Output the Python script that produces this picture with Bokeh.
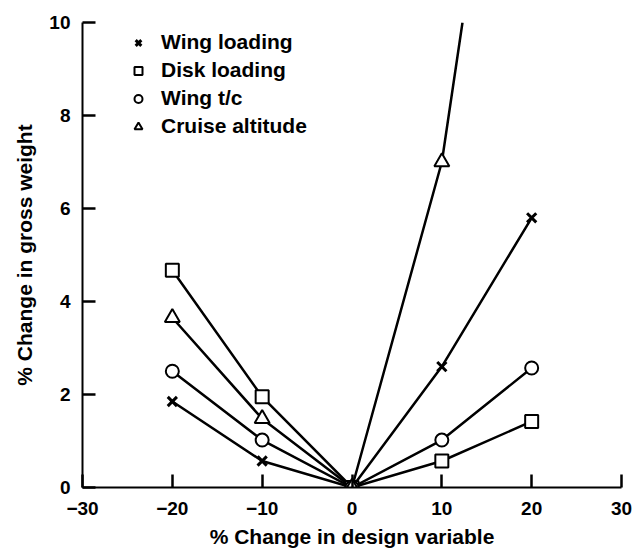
from bokeh.plotting import figure
from bokeh.models import Range1d, FixedTicker, Legend, LegendItem
from bokeh.embed import file_html
from bokeh.resources import INLINE

# Data
x_pts = [-20, -10, 0, 10, 20]
wing_loading = [1.85, 0.57, 0.0, 2.6, 5.8]
disk_loading = [4.67, 1.95, 0.0, 0.57, 1.42]
wing_tc = [2.5, 1.02, 0.0, 1.02, 2.57]
cruise_x = [-20, -10, 0, 10]
cruise_alt = [3.65, 1.48, 0.0, 7.0]
cruise_line_x = [-20, -10, 0, 10, 12.3]
cruise_line_y = [3.65, 1.48, 0.0, 7.0, 10.0]

x_ticks = [-30, -20, -10, 0, 10, 20, 30]
y_ticks = [0, 2, 4, 6, 8, 10]

FONT = "Liberation Sans"
X0, X1, Y0, Y1 = -30, 30, 0, 10

p = figure(width=633, height=550, output_backend="svg", toolbar_location=None,
           x_range=Range1d(X0, X1), y_range=Range1d(Y0, Y1),
           min_border_left=82, min_border_right=12, min_border_top=22, min_border_bottom=63)
p.outline_line_color = None
p.xgrid.visible = False
p.ygrid.visible = False
p.background_fill_color = "white"

for ax in (p.xaxis[0], p.yaxis[0]):
    ax.major_tick_in = 13
    ax.major_tick_out = 0
    ax.major_tick_line_width = 2.5
    ax.major_tick_line_color = "black"
    ax.minor_tick_line_color = None
    ax.axis_line_width = 2
    ax.axis_line_color = "black"
    ax.major_label_text_font = FONT
    ax.major_label_text_font_style = "bold"
    ax.major_label_text_font_size = "19px"
    ax.major_label_text_color = "black"
    ax.axis_label_text_font = FONT
    ax.axis_label_text_font_style = "bold"
    ax.axis_label_text_font_size = "21px"
    ax.axis_label_text_color = "black"

p.xaxis.ticker = FixedTicker(ticks=x_ticks)
p.yaxis.ticker = FixedTicker(ticks=y_ticks)
p.xaxis.major_label_overrides = {-30: "\u221230", -20: "\u221220", -10: "\u221210"}
p.xaxis.axis_label = "% Change in design variable"
p.yaxis.axis_label = "% Change in gross weight"
p.xaxis.major_label_standoff = 14
p.yaxis.major_label_standoff = 12
p.xaxis.axis_label_standoff = 7
p.yaxis.axis_label_standoff = 10

LW = 2.5
p.line(x_pts, wing_loading, line_color="black", line_width=LW)
p.line(x_pts, disk_loading, line_color="black", line_width=LW)
p.line(x_pts, wing_tc, line_color="black", line_width=LW)
p.line(cruise_line_x, cruise_line_y, line_color="black", line_width=LW)

r_wl = p.scatter(x_pts, wing_loading, marker="x", size=13, line_color="black", line_width=3)
r_dl = p.scatter(x_pts, disk_loading, marker="square", size=13, line_color="black",
                 fill_color="white", line_width=2)
r_tc = p.scatter(x_pts, wing_tc, marker="circle", size=13, line_color="black",
                 fill_color="white", line_width=2)
r_ca = p.scatter(cruise_x, cruise_alt, marker="triangle", size=15, line_color="black",
                 fill_color="white", line_width=2)

legend = Legend(items=[
    LegendItem(label="Wing loading", renderers=[r_wl]),
    LegendItem(label="Disk loading", renderers=[r_dl]),
    LegendItem(label="Wing t/c", renderers=[r_tc]),
    LegendItem(label="Cruise altitude", renderers=[r_ca]),
], location=(46, 349), orientation="vertical")
legend.border_line_color = None
legend.background_fill_alpha = 0
legend.padding = 0
legend.margin = 0
legend.spacing = 4
legend.glyph_width = 20
legend.glyph_height = 21
legend.label_standoff = 13
legend.label_text_font = FONT
legend.label_text_font_style = "bold"
legend.label_text_font_size = "21px"
legend.label_text_color = "black"
legend.label_height = 21
p.add_layout(legend, "center")

open("out.html", "w").write(file_html(p, INLINE))
